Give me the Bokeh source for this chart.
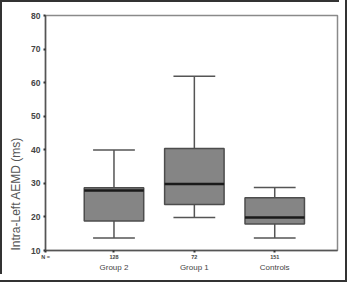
from bokeh.plotting import figure
from bokeh.models import Range1d, LinearAxis, FixedTicker, Title
from bokeh.embed import file_html
from bokeh.resources import INLINE

groups = ["Group 2", "Group 1", "Controls"]
counts = ["128", "72", "151"]
lower = [13.7, 19.8, 13.7]
q1 = [18.8, 23.7, 17.9]
median = [27.9, 29.8, 19.8]
q3 = [28.7, 40.4, 25.7]
upper = [39.9, 61.9, 28.8]
y_ticks = [10, 20, 30, 40, 50, 60, 70, 80]
y_title = "Intra-Left AEMD (ms)"

xs = list(range(len(groups)))
x_start, x_end = -0.852, 2.781

p = figure(width=339, height=274, output_backend="svg", toolbar_location=None,
           x_range=Range1d(x_start, x_end), y_range=Range1d(10, 80),
           min_border_left=44, min_border_right=2, min_border_top=15, min_border_bottom=18,
           x_axis_location=None)
p.styles = {"outline": "2px solid #333333", "outline-offset": "6px",
            "box-shadow": "inset 2px 2px 0 0 #333333"}
p.grid.visible = False
p.outline_line_color = "#8a8a8a"
p.outline_line_width = 1.5
p.background_fill_color = "white"
p.border_fill_alpha = 0

font = "Liberation Sans"

# y axis
ya = p.yaxis[0]
ya.ticker = FixedTicker(ticks=y_ticks)
ya.major_label_text_font = font
ya.major_label_text_font_size = "8.5px"
ya.major_label_text_font_style = "bold"
ya.major_label_text_color = "#444444"
ya.major_label_standoff = 3
ya.major_tick_out = 2
ya.major_tick_in = 0
ya.minor_tick_line_color = None
ya.axis_line_color = "#555555"
ya.axis_line_width = 1.5
ya.major_tick_line_color = "#333333"
ya.major_tick_line_width = 2

# y title, set lower than the axis centre as in the original
p.add_layout(Title(text=y_title, align="left", offset=0, standoff=12,
                   text_font=font, text_font_size="12px", text_font_style="normal",
                   text_color="#555555"), "left")

# x axis: counts row
xa = LinearAxis(ticker=FixedTicker(ticks=[x_start] + xs),
                major_label_overrides={**{x_start: "N ="}, **{x: c for x, c in zip(xs, counts)}})
xa.major_label_text_font = font
xa.major_label_text_font_size = "5.5px"
xa.major_label_text_font_style = "bold"
xa.major_label_text_color = "#444444"
xa.major_label_standoff = 1
xa.major_tick_out = 2
xa.major_tick_in = 0
xa.minor_tick_line_color = None
xa.axis_line_color = "#555555"
xa.axis_line_width = 1.5
xa.major_tick_line_color = "#333333"
xa.major_tick_line_width = 2
p.add_layout(xa, "below")

# x axis: group names row
xg = LinearAxis(ticker=FixedTicker(ticks=xs),
                major_label_overrides={x: g for x, g in zip(xs, groups)})
xg.major_label_text_font = font
xg.major_label_text_font_size = "8px"
xg.major_label_text_color = "#444444"
xg.major_label_standoff = 0
xg.major_tick_line_color = None
xg.minor_tick_line_color = None
xg.axis_line_color = None
xg.major_tick_out = 0
xg.major_tick_in = 0
p.add_layout(xg, "below")

box_w = 0.74
cap_w = 0.52

p.segment(x0=xs, y0=q3, x1=xs, y1=upper, line_color="#555555", line_width=1.5)
p.segment(x0=xs, y0=q1, x1=xs, y1=lower, line_color="#555555", line_width=1.5)
p.segment(x0=[x - cap_w / 2 for x in xs], y0=upper, x1=[x + cap_w / 2 for x in xs], y1=upper,
          line_color="#555555", line_width=1.5)
p.segment(x0=[x - cap_w / 2 for x in xs], y0=lower, x1=[x + cap_w / 2 for x in xs], y1=lower,
          line_color="#555555", line_width=1.5)
p.vbar(x=xs, width=box_w, bottom=q1, top=q3, fill_color="#858585",
       line_color="#4d4d4d", line_width=1.5)
p.segment(x0=[x - box_w / 2 for x in xs], y0=median, x1=[x + box_w / 2 for x in xs], y1=median,
          line_color="#1a1a1a", line_width=2.5)

open("out.html", "w").write(file_html(p, INLINE))
